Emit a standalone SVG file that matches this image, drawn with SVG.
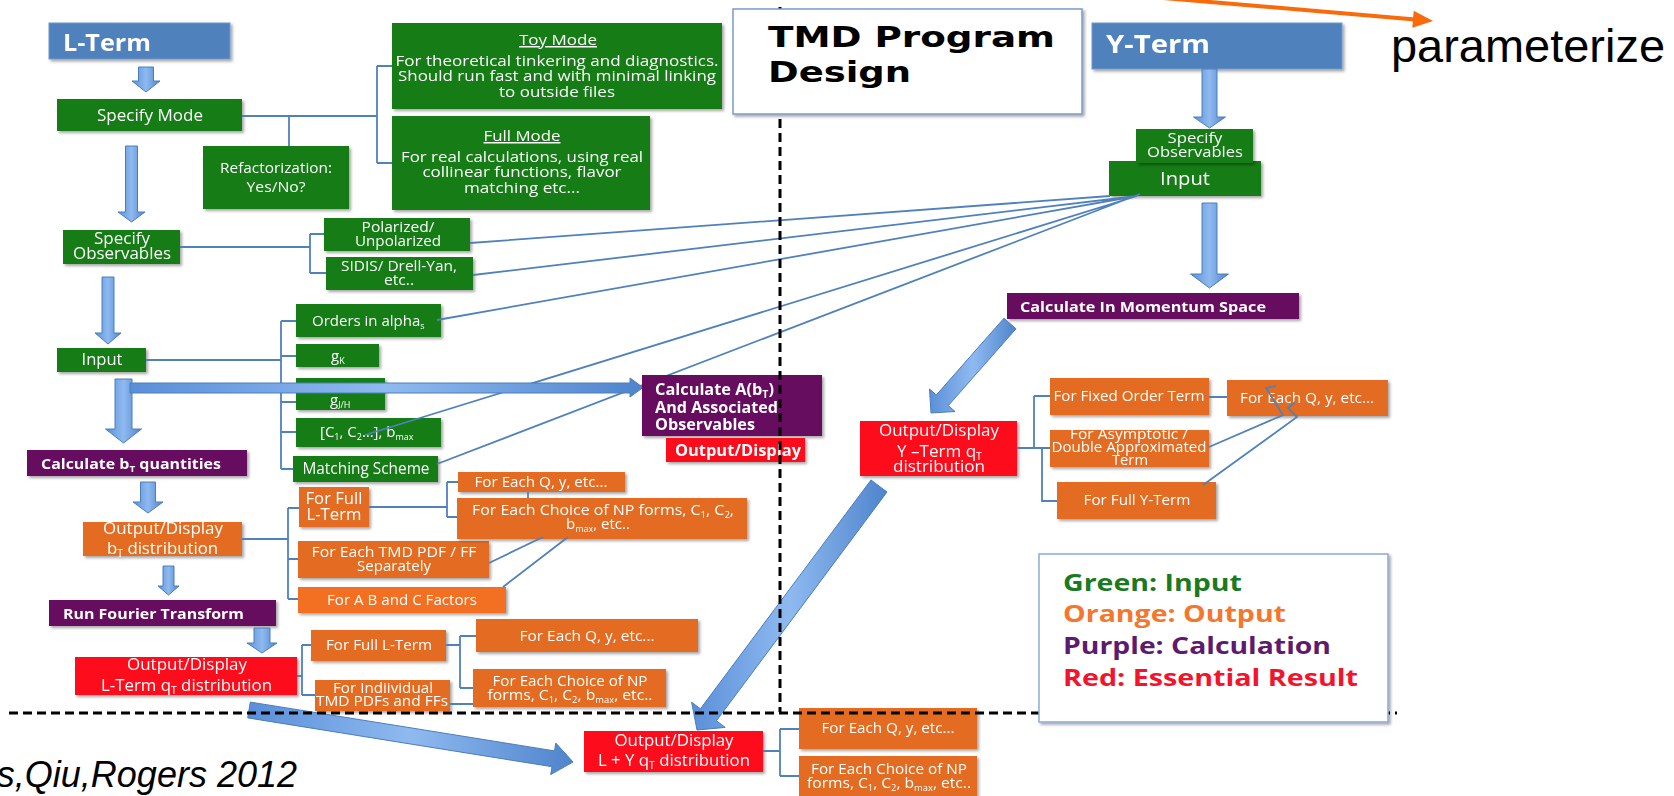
<svg xmlns="http://www.w3.org/2000/svg" width="1674" height="796" viewBox="0 0 1674 796">
<defs>
<filter id="sh" x="-10%" y="-20%" width="130%" height="150%"><feDropShadow dx="2" dy="2" stdDeviation="1.5" flood-color="#000" flood-opacity="0.35"/></filter>
<linearGradient id="ag" x1="0" y1="0" x2="1" y2="0"><stop offset="0" stop-color="#5a8fd8"/><stop offset="0.5" stop-color="#8fbaf0"/><stop offset="1" stop-color="#4f84cc"/></linearGradient>
<style>
.n{filter:url(#sh)}
.g{fill:#137b13}
.o{fill:#e36c21}
.o2{fill:#f36f22}
.p{fill:#660c5e}
.r{fill:#fd0d1b}
.bl{fill:#4f81bd;stroke:#6f98cc;stroke-width:1}
text{font-family:'Open Sans','Liberation Sans',sans-serif;fill:#fff}
.c{text-anchor:middle}
.b{font-weight:bold}
.ln{fill:none;stroke:#4f81bd;stroke-width:1.8}
.ar{fill:url(#ag);stroke:#4a7ebb;stroke-width:1}
.dash{fill:none;stroke:#000;stroke-width:3;stroke-dasharray:9 5}
.lg{font-weight:bold;font-size:23px}
.tt{font-family:'DejaVu Sans','Liberation Sans',sans-serif;font-weight:bold;font-size:28px;fill:#000}
.ar1{font-family:'Liberation Sans',Arial,sans-serif;fill:#000}
</style>
</defs>
<rect width="1674" height="796" fill="#fff"/>

<!-- L-term side nodes -->
<g id="lterm" class="n"><rect class="bl" x="49" y="23" width="181" height="36"/><text class="b" x="63" y="51" font-size="23" textLength="88" lengthAdjust="spacingAndGlyphs">L-Term</text></g>
<g id="specmode" class="n"><rect class="g" x="57" y="99" width="185" height="32"/><text class="c" x="150" y="121" font-size="16" textLength="106" lengthAdjust="spacingAndGlyphs">Specify Mode</text></g>
<g id="refact" class="n"><rect class="g" x="203" y="146" width="146" height="63"/><text class="c" x="276" y="173" font-size="15" textLength="112" lengthAdjust="spacingAndGlyphs">Refactorization:</text><text class="c" x="276" y="192" font-size="15" textLength="59" lengthAdjust="spacingAndGlyphs">Yes/No?</text></g>
<g id="toymode" class="n"><rect class="g" x="392" y="23" width="330" height="86"/><text class="c" x="558" y="45" font-size="15" text-decoration="underline" textLength="78" lengthAdjust="spacingAndGlyphs">Toy Mode</text><text class="c" x="557" y="66" font-size="14.5" textLength="323" lengthAdjust="spacingAndGlyphs">For theoretical tinkering and diagnostics.</text><text class="c" x="557" y="81" font-size="14.5" textLength="318" lengthAdjust="spacingAndGlyphs">Should run fast and with minimal linking</text><text class="c" x="557" y="97" font-size="14.5" textLength="116" lengthAdjust="spacingAndGlyphs">to outside files</text></g>
<g id="fullmode" class="n"><rect class="g" x="392" y="116" width="258" height="94"/><text class="c" x="522" y="141" font-size="15" text-decoration="underline" textLength="77" lengthAdjust="spacingAndGlyphs">Full Mode</text><text class="c" x="522" y="162" font-size="14.5" textLength="242" lengthAdjust="spacingAndGlyphs">For real calculations, using real</text><text class="c" x="522" y="177" font-size="14.5" textLength="199" lengthAdjust="spacingAndGlyphs">collinear functions, flavor</text><text class="c" x="522" y="193" font-size="14.5" textLength="116" lengthAdjust="spacingAndGlyphs">matching etc...</text></g>
<g id="specobsL" class="n"><rect class="g" x="63" y="230" width="117" height="34"/><text class="c" x="122" y="244" font-size="16" textLength="56" lengthAdjust="spacingAndGlyphs">Specify</text><text class="c" x="122" y="259" font-size="16" textLength="98" lengthAdjust="spacingAndGlyphs">Observables</text></g>
<g id="polar" class="n"><rect class="g" x="324" y="218" width="146" height="33"/><text class="c" x="398" y="232" font-size="14" textLength="73" lengthAdjust="spacingAndGlyphs">Polarized/</text><text class="c" x="398" y="246" font-size="14" textLength="86" lengthAdjust="spacingAndGlyphs">Unpolarized</text></g>
<g id="sidis" class="n"><rect class="g" x="326" y="257" width="147" height="33"/><text class="c" x="399" y="271" font-size="14.5" textLength="116" lengthAdjust="spacingAndGlyphs">SIDIS/ Drell-Yan,</text><text class="c" x="399" y="285" font-size="14.5" textLength="30" lengthAdjust="spacingAndGlyphs">etc..</text></g>
<g id="inputL" class="n"><rect class="g" x="57" y="348" width="89" height="24"/><text class="c" x="102" y="365" font-size="16" textLength="41" lengthAdjust="spacingAndGlyphs">Input</text></g>
<g id="orders" class="n"><rect class="g" x="296" y="304" width="145" height="33"/><text x="312" y="326" font-size="15">Orders in alpha<tspan font-size="9" dy="3">s</tspan></text></g>
<g id="gk" class="n"><rect class="g" x="296" y="344" width="83" height="23"/><text x="331" y="361" font-size="15">g<tspan font-size="9" dy="3">K</tspan></text></g>
<g id="gjh" class="n"><rect class="g" x="296" y="378" width="89" height="32"/><text x="330" y="405" font-size="15">g<tspan font-size="9" dy="3">J/H</tspan></text></g>
<g id="c1c2" class="n"><rect class="g" x="296" y="418" width="145" height="29"/><text x="320" y="437" font-size="15">[C<tspan font-size="9" dy="3">1</tspan><tspan dy="-3">, C</tspan><tspan font-size="9" dy="3">2</tspan><tspan dy="-3">…], b</tspan><tspan font-size="9" dy="3">max</tspan></text></g>
<g id="matching" class="n"><rect class="g" x="293" y="456" width="145" height="26"/><text class="c" x="366" y="474" font-size="15.5" textLength="127" lengthAdjust="spacingAndGlyphs">Matching Scheme</text></g>
<g id="calcbt" class="n"><rect class="p" x="27" y="450" width="220" height="26"/><text class="b" x="41" y="469" font-size="14.5" textLength="180" lengthAdjust="spacingAndGlyphs">Calculate b<tspan font-size="9" dy="3">T</tspan><tspan dy="-3"> quantities</tspan></text></g>
<g id="outbt" class="n"><rect class="o" x="83" y="522" width="159" height="34"/><text class="c" x="163" y="534" font-size="16" textLength="120" lengthAdjust="spacingAndGlyphs">Output/Display</text><text x="107" y="554" font-size="16" textLength="111" lengthAdjust="spacingAndGlyphs">b<tspan font-size="10" dy="3">T</tspan><tspan dy="-3"> distribution</tspan></text></g>
<g id="fullL1" class="n"><rect class="o" x="299" y="487" width="70" height="40"/><text class="c" x="334" y="504" font-size="16.5" textLength="57" lengthAdjust="spacingAndGlyphs">For Full</text><text class="c" x="334" y="520" font-size="16.5" textLength="55" lengthAdjust="spacingAndGlyphs">L-Term</text></g>
<g id="eachtmd" class="n"><rect class="o" x="298" y="541" width="191" height="37"/><text class="c" x="394" y="557" font-size="15" textLength="165" lengthAdjust="spacingAndGlyphs">For Each  TMD PDF / FF</text><text class="c" x="394" y="571" font-size="15" textLength="74" lengthAdjust="spacingAndGlyphs">Separately</text></g>
<g id="abc" class="n"><rect class="o2" x="298" y="587" width="208" height="26"/><text class="c" x="402" y="605" font-size="15" textLength="150" lengthAdjust="spacingAndGlyphs">For A B and C Factors</text></g>
<g id="eachq1" class="n"><rect class="o" x="458" y="472" width="167" height="20"/><text class="c" x="541" y="487" font-size="15" textLength="133" lengthAdjust="spacingAndGlyphs">For Each Q, y, etc...</text></g>
<g id="eachnp1" class="n"><rect class="o" x="457" y="498" width="290" height="41"/><text class="c" x="603" y="515" font-size="15" textLength="262" lengthAdjust="spacingAndGlyphs">For Each Choice of NP forms, C<tspan font-size="9" dy="3">1</tspan><tspan dy="-3">, C</tspan><tspan font-size="9" dy="3">2</tspan><tspan dy="-3">,</tspan></text><text class="c" x="598" y="529" font-size="15">b<tspan font-size="9" dy="3">max</tspan><tspan dy="-3">, etc..</tspan></text></g>
<g id="fourier" class="n"><rect class="p" x="49" y="600" width="227" height="26"/><text class="b" x="63" y="619" font-size="15" textLength="181" lengthAdjust="spacingAndGlyphs">Run Fourier Transform</text></g>
<g id="outLq" class="n"><rect class="r" x="75" y="657" width="222" height="38"/><text class="c" x="187" y="670" font-size="16" textLength="120" lengthAdjust="spacingAndGlyphs">Output/Display</text><text x="101" y="691" font-size="16" textLength="171" lengthAdjust="spacingAndGlyphs">L-Term q<tspan font-size="10" dy="3">T</tspan><tspan dy="-3"> distribution</tspan></text></g>
<g id="fullL2" class="n"><rect class="o" x="311" y="630" width="135" height="31"/><text class="c" x="379" y="650" font-size="15" textLength="106" lengthAdjust="spacingAndGlyphs">For Full L-Term</text></g>
<g id="indiv" class="n"><rect class="o" x="315" y="680" width="135" height="31"/><text class="c" x="383" y="693" font-size="15" textLength="100" lengthAdjust="spacingAndGlyphs">For Indiividual</text><text class="c" x="382" y="706" font-size="15" textLength="132" lengthAdjust="spacingAndGlyphs">TMD PDFs and FFs</text></g>
<g id="eachq2" class="n"><rect class="o" x="476" y="619" width="222" height="33"/><text class="c" x="587" y="641" font-size="15" textLength="135" lengthAdjust="spacingAndGlyphs">For Each Q, y, etc...</text></g>
<g id="eachnp2" class="n"><rect class="o" x="473" y="669" width="193" height="38"/><text class="c" x="570" y="686" font-size="15" textLength="155" lengthAdjust="spacingAndGlyphs">For Each Choice of NP</text><text class="c" x="570" y="700" font-size="15" textLength="165" lengthAdjust="spacingAndGlyphs">forms, C<tspan font-size="9" dy="3">1</tspan><tspan dy="-3">, C</tspan><tspan font-size="9" dy="3">2</tspan><tspan dy="-3">, b</tspan><tspan font-size="9" dy="3">max</tspan><tspan dy="-3">, etc..</tspan></text></g>

<!-- Y-term side nodes -->
<g id="yterm" class="n"><rect class="bl" x="1092" y="23" width="250" height="46"/><text class="b" x="1106" y="53" font-size="25" textLength="104" lengthAdjust="spacingAndGlyphs">Y-Term</text></g>
<g id="inputY" class="n"><rect class="g" x="1109" y="161" width="152" height="35"/><text class="c" x="1185" y="185" font-size="18" textLength="50" lengthAdjust="spacingAndGlyphs">Input</text></g>
<g id="specobsY" class="n"><rect class="g" x="1136" y="129" width="117" height="34"/><text class="c" x="1195" y="143" font-size="14" textLength="55" lengthAdjust="spacingAndGlyphs">Specify</text><text class="c" x="1195" y="157" font-size="14" textLength="96" lengthAdjust="spacingAndGlyphs">Observables</text></g>
<g id="calcmom" class="n"><rect class="p" x="1007" y="293" width="292" height="26"/><text class="b" x="1020" y="312" font-size="15" textLength="246" lengthAdjust="spacingAndGlyphs">Calculate In Momentum Space</text></g>
<g id="outYq" class="n"><rect class="r" x="860" y="421" width="157" height="55"/><text class="c" x="939" y="436" font-size="16" textLength="120" lengthAdjust="spacingAndGlyphs">Output/Display</text><text x="897" y="457" font-size="16" textLength="85" lengthAdjust="spacingAndGlyphs">Y –Term q<tspan font-size="10" dy="3">T</tspan></text><text class="c" x="939" y="472" font-size="16" textLength="92" lengthAdjust="spacingAndGlyphs">distribution</text></g>
<g id="fixed" class="n"><rect class="o" x="1050" y="378" width="159" height="37"/><text class="c" x="1129" y="401" font-size="15" textLength="151" lengthAdjust="spacingAndGlyphs">For Fixed Order Term</text></g>
<g id="asym" class="n"><rect class="o" x="1050" y="430" width="159" height="37"/><text class="c" x="1129" y="439" font-size="15" textLength="118" lengthAdjust="spacingAndGlyphs">For Asymptotic /</text><text class="c" x="1129" y="452" font-size="15" textLength="155" lengthAdjust="spacingAndGlyphs">Double Approximated</text><text class="c" x="1130" y="465" font-size="15" textLength="36" lengthAdjust="spacingAndGlyphs">Term</text></g>
<g id="fullY" class="n"><rect class="o" x="1057" y="482" width="159" height="37"/><text class="c" x="1137" y="505" font-size="15" textLength="107" lengthAdjust="spacingAndGlyphs">For Full Y-Term</text></g>
<g id="eachqY" class="n"><rect class="o" x="1227" y="380" width="161" height="36"/><text class="c" x="1307" y="403" font-size="15" textLength="134" lengthAdjust="spacingAndGlyphs">For Each Q, y, etc...</text></g>

<!-- bottom nodes -->
<g id="outLY" class="n"><rect class="r" x="584" y="731" width="179" height="41"/><text class="c" x="674" y="746" font-size="16" textLength="119" lengthAdjust="spacingAndGlyphs">Output/Display</text><text x="598" y="766" font-size="16" textLength="152" lengthAdjust="spacingAndGlyphs">L + Y q<tspan font-size="10" dy="3">T</tspan><tspan dy="-3"> distribution</tspan></text></g>
<g id="eachq3" class="n"><rect class="o" x="799" y="708" width="178" height="41"/><text class="c" x="888" y="733" font-size="15" textLength="133" lengthAdjust="spacingAndGlyphs">For Each Q, y, etc...</text></g>
<g id="eachnp3" class="n"><rect class="o" x="799" y="756" width="178" height="44"/><text class="c" x="889" y="774" font-size="15" textLength="156" lengthAdjust="spacingAndGlyphs">For Each Choice of NP</text><text class="c" x="889" y="788" font-size="15" textLength="164" lengthAdjust="spacingAndGlyphs">forms, C<tspan font-size="9" dy="3">1</tspan><tspan dy="-3">, C</tspan><tspan font-size="9" dy="3">2</tspan><tspan dy="-3">, b</tspan><tspan font-size="9" dy="3">max</tspan><tspan dy="-3">, etc..</tspan></text></g>

<!-- connectors -->
<g id="connectors">
<path class="ln" d="M242,116H377M377,66V163M377,66H392M377,163H392"/>
<path class="ln" d="M289,116V146" stroke-width="3.5"/>
<path class="ln" d="M180,247H310M310,234V273M310,234H324M310,273H326"/>
<path class="ln" d="M146,360H281M281,321V469M281,321H296M281,356H296M281,402H296M281,432H296M281,469H293"/>
<path class="ln" d="M242,539H288M288,508V599M288,508H299M288,559H298M288,599H298"/>
<path class="ln" d="M369,507H447M447,482V517M447,482H458M447,517H457"/>
<path class="ln" d="M528,492V498" stroke-width="3"/>
<path class="ln" d="M489,563L543,537M503,587L568,537"/>
<path class="ln" d="M297,676H302M302,645V695M302,645H311M302,695H315"/>
<path class="ln" d="M446,645H460M460,636V688M460,636H476M460,688H473M450,704H473"/>
<path class="ln" d="M763,751H780M780,729V776M780,729H799M780,776H799"/>
<path class="ln" d="M1017,448H1050M1034,396V448M1034,396H1050M1042,448V501H1057M1209,397H1227"/>
<polyline class="ln" points="1209,447 1283,415 1266,388 1276,386"/>
<polyline class="ln" points="1203,485 1297,417 1288,408 1295,402"/>
<path class="ln" d="M1110,196L470,243M1137,196L473,275M1137,196L437,320M1137,196L365,435M1140,194L437,464" stroke-width="2"/>
<polygon class="ar" points="138.5,67 153.5,67 153.5,81 160,81 146,92 132,81 138.5,81"/>
<polygon class="ar" points="125.5,146 137.5,146 137.5,212 145,212 131.5,222 118,212 125.5,212"/>
<polygon class="ar" points="102,277 114,277 114,333 121,333 108,344 95,333 102,333"/>
<polygon class="ar" points="115,379 132,379 132,429 141.5,429 123.5,443 105.5,429 115,429"/>
<polygon class="ar" points="130,383 630,383 630,378 643,387.5 630,397 630,393 130,393"/>
<polygon class="ar" points="140.5,482 155.5,482 155.5,502 163,502 148,513 133,502 140.5,502"/>
<polygon class="ar" points="163,566 174,566 174,586 179,586 168.5,595 158,586 163,586"/>
<polygon class="ar" points="254,628 270,628 270,643 277,643 262,653 247,643 254,643"/>
<polygon class="ar" points="1202,69 1217,69 1217,117 1225.5,117 1209.5,128 1193.5,117 1202,117"/>
<polygon class="ar" points="1202,203 1217,203 1217,274 1228.5,274 1209.5,288 1190.5,274 1202,274"/>
<polygon class="ar" points="1004,318.2 1016,328.8 948.3,405.6 955,411.5 931,413 929.5,389 936.3,395"/>
<polygon class="ar" points="871,480 887,492 716.4,720.8 725.2,727.4 697,730 691.6,702.2 700.4,708.8"/>
<polygon class="ar" points="250.3,702.1 554.5,750.9 555.8,743 573,762 550.7,774.6 552,766.7 247.7,717.9"/>
</g>

<g id="calcA" class="n"><rect class="p" x="642" y="375" width="180" height="61"/><text class="b" x="655" y="395" font-size="15.5" textLength="119" lengthAdjust="spacingAndGlyphs">Calculate A(b<tspan font-size="10" dy="3">T</tspan><tspan dy="-3">)</tspan></text><text class="b" x="655" y="413" font-size="15.5" textLength="123" lengthAdjust="spacingAndGlyphs">And Associated</text><text class="b" x="655" y="430" font-size="15.5" textLength="100" lengthAdjust="spacingAndGlyphs">Observables</text></g>
<g id="outA" class="n"><rect class="r" x="666" y="438" width="139" height="24"/><text class="b" x="675" y="456" font-size="16" textLength="126" lengthAdjust="spacingAndGlyphs">Output/Display</text></g>

<!-- dashed separators -->
<path class="dash" d="M780,7V712"/>
<path class="dash" d="M9,713H1397"/>

<g id="title"><rect x="733" y="9" width="349" height="105" fill="#fff" stroke="#7a9cc8" stroke-width="1.5" filter="url(#sh)"/><text class="tt" x="768" y="47" textLength="287" lengthAdjust="spacingAndGlyphs">TMD Program</text><text class="tt" x="768" y="82" textLength="143" lengthAdjust="spacingAndGlyphs">Design</text></g>

<g id="legend"><rect x="1039" y="554" width="349" height="168" fill="#fff" stroke="#8eaad6" stroke-width="1.5" filter="url(#sh)"/><text class="lg" x="1063" y="591" style="fill:#1a7a1f" textLength="179" lengthAdjust="spacingAndGlyphs">Green: Input</text><text class="lg" x="1063" y="622" style="fill:#f4772e" textLength="223" lengthAdjust="spacingAndGlyphs">Orange: Output</text><text class="lg" x="1063" y="654" style="fill:#5e1a6e" textLength="268" lengthAdjust="spacingAndGlyphs">Purple: Calculation</text><text class="lg" x="1063" y="686" style="fill:#f5132c" textLength="295" lengthAdjust="spacingAndGlyphs">Red: Essential Result</text></g>

<g id="annotation"><line x1="1140" y1="-4" x2="1415" y2="19.5" stroke="#f96a0a" stroke-width="4"/><polygon points="1433,21 1413.7,10.8 1412.3,27.8" fill="#f96a0a"/><text class="ar1" x="1391" y="62" font-size="46" textLength="274" lengthAdjust="spacingAndGlyphs">parameterize</text></g>
<text class="ar1" x="297" y="787" font-size="36" font-style="italic" text-anchor="end">s,Qiu,Rogers 2012</text>
</svg>
